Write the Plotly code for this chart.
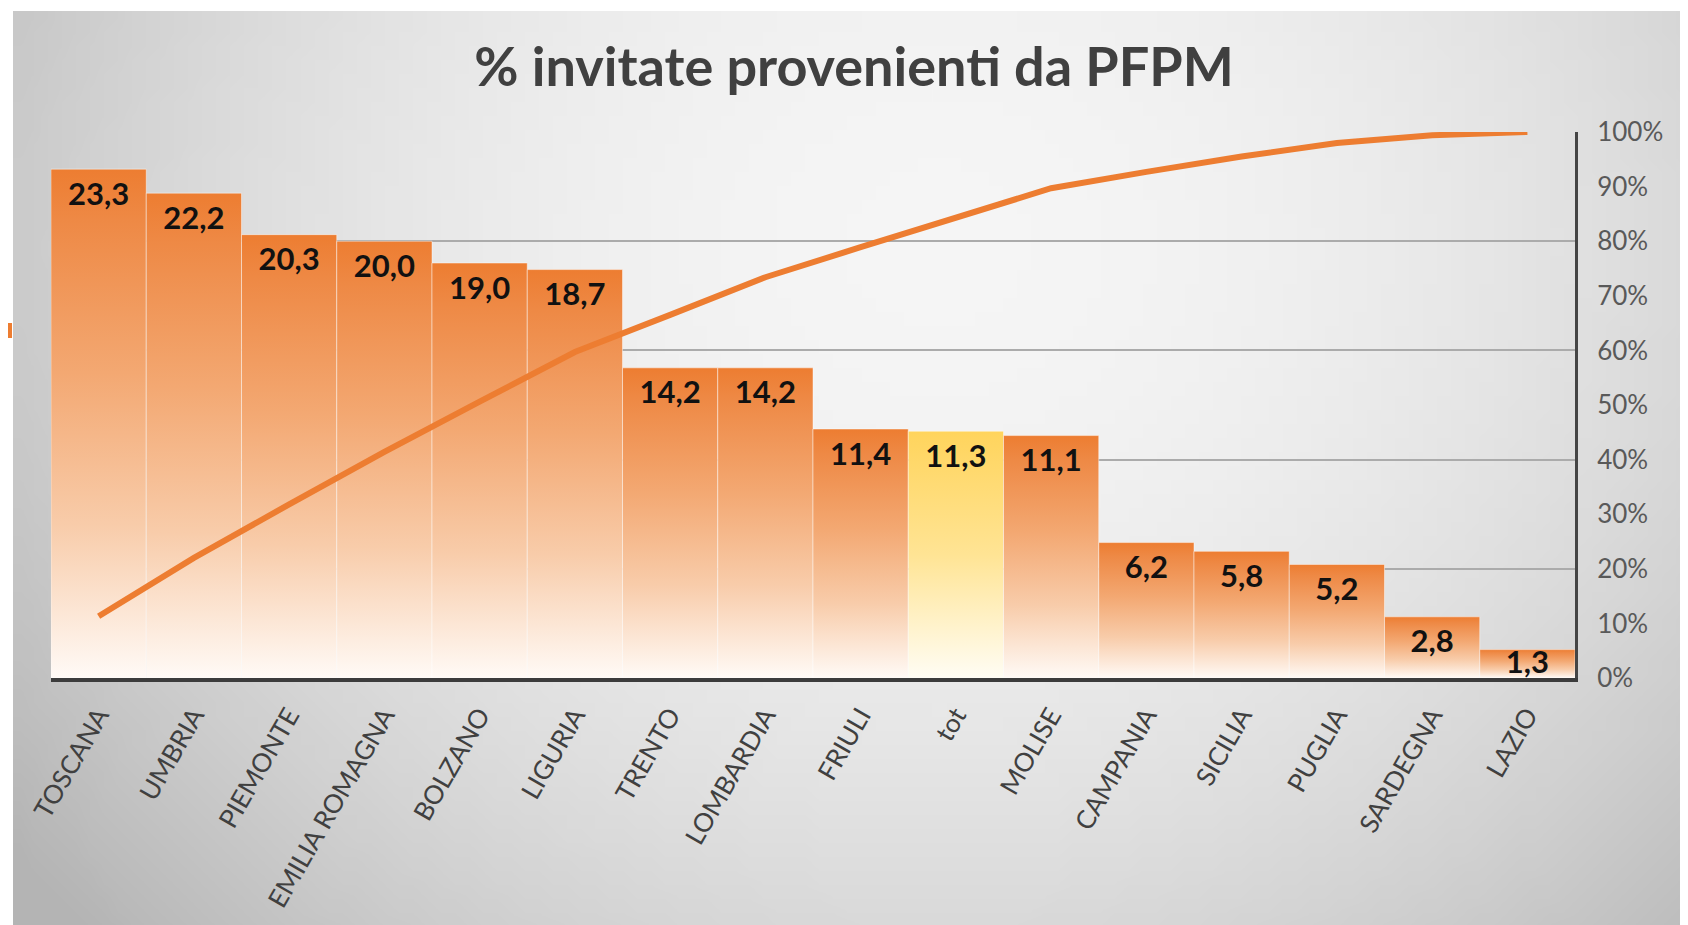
"""Pareto chart: % invitate provenienti da PFPM, per regione."""

import base64
import struct
import zlib

import plotly.graph_objects as go

REGIONS = [
    "TOSCANA", "UMBRIA", "PIEMONTE", "EMILIA ROMAGNA", "BOLZANO", "LIGURIA",
    "TRENTO", "LOMBARDIA", "FRIULI", "tot", "MOLISE", "CAMPANIA", "SICILIA",
    "PUGLIA", "SARDEGNA", "LAZIO",
]
PCT_PFPM = [23.3, 22.2, 20.3, 20.0, 19.0, 18.7, 14.2, 14.2, 11.4, 11.3, 11.1,
            6.2, 5.8, 5.2, 2.8, 1.3]
# cumulative share (right axis)
CUMULATIVE = [0.113, 0.220, 0.318, 0.414, 0.506, 0.597, 0.665, 0.734, 0.789,
              0.843, 0.897, 0.927, 0.955, 0.980, 0.994, 1.0]
HIGHLIGHT = "tot"

W, H = 1688, 925
# the page body adds an 8px offset, so margins are set for that
M_L, M_R, M_T, M_B = 43, 121, 124, 255
PW, PH = W - M_L - M_R, H - M_T - M_B
Y_MAX = 25

FONT = "Lato"
ORANGE = "#ED7D31"
_BAR_SCALE = [[0, "#FFFAF6"], [0.3, "#F8CCAA"], [0.6, "#F3A872"],
              [0.9, "#EE8945"], [1, ORANGE]]
_TOT_SCALE = [[0, "#FFFDF4"], [0.5, "#FFE494"], [1, "#FFD45C"]]


def _png(w, h, pix):
    """Tiny PNG encoder, used for the grey slide background."""
    raw = b"".join(
        b"\x00" + bytes(c for x in range(w) for c in pix(x / (w - 1), y / (h - 1)))
        for y in range(h)
    )

    def chunk(tag, data):
        return (struct.pack(">I", len(data)) + tag + data
                + struct.pack(">I", zlib.crc32(tag + data) & 0xFFFFFFFF))

    return (b"\x89PNG\r\n\x1a\n"
            + chunk(b"IHDR", struct.pack(">IIBBBBB", w, h, 8, 2, 0, 0, 0))
            + chunk(b"IDAT", zlib.compress(raw))
            + chunk(b"IEND", b""))


def _bg(u, v):
    d = ((u - 0.55) / 0.6) ** 2 + ((v - 0.25) / 1.0) ** 2
    g = int(round(245 - 50 * min(d, 1.3)))
    return (g, g, g)


bg_uri = "data:image/png;base64," + base64.b64encode(_png(120, 66, _bg)).decode()

fig = go.Figure()

for i, (name, val) in enumerate(zip(REGIONS, PCT_PFPM)):
    fig.add_trace(go.Scatter(
        x=[i - 0.5, i - 0.5, i + 0.5, i + 0.5, i - 0.5],
        y=[0, val, val, 0, 0],
        mode="lines",
        fill="toself",
        fillgradient=dict(type="vertical",
                          colorscale=_TOT_SCALE if name == HIGHLIGHT else _BAR_SCALE),
        line=dict(color="rgba(255,255,255,0.45)", width=1),
        hoverinfo="skip",
        showlegend=False,
    ))

# invisible markers push the labels down inside the bar; short bars get less push
bar_px = [v / Y_MAX * PH for v in PCT_PFPM]
push = [max(0, min(18, 2 * (h - 32))) for h in bar_px]
fig.add_trace(go.Scatter(
    x=list(range(len(REGIONS))),
    y=PCT_PFPM,
    mode="markers+text",
    marker=dict(size=push, opacity=0),
    text=[f"{v:.1f}".replace(".", ",") for v in PCT_PFPM],
    textposition="bottom center",
    textfont=dict(family=FONT, size=31, color="#111111", weight="bold"),
    hoverinfo="skip",
    showlegend=False,
))

fig.add_trace(go.Scatter(
    x=list(range(len(REGIONS))),
    y=CUMULATIVE,
    yaxis="y2",
    mode="lines",
    line=dict(color=ORANGE, width=6),
    cliponaxis=False,
    showlegend=False,
))

fig.update_layout(
    width=W,
    height=H,
    margin=dict(l=M_L, r=M_R, t=M_T, b=M_B),
    paper_bgcolor="white",
    plot_bgcolor="rgba(0,0,0,0)",
    font=dict(family=FONT, color="#404040"),
    title=dict(
        text="% invitate provenienti da PFPM",
        x=846 / W, y=1 - 59 / H, xanchor="center", yanchor="middle",
        font=dict(family=FONT, size=54, color="#404040", weight="bold"),
    ),
    xaxis=dict(
        range=[-0.5, len(REGIONS) - 0.5],
        tickvals=list(range(len(REGIONS))),
        ticktext=REGIONS,
        tickangle=-60,
        tickfont=dict(size=26, color="#404040"),
        ticks="", ticklabelstandoff=8,
        showgrid=False, zeroline=False,
        showline=True, linecolor="#3c3c3c", linewidth=4,
    ),
    yaxis=dict(
        range=[0, Y_MAX], dtick=5,
        showticklabels=False, ticks="",
        showgrid=True, gridcolor="#ababab", gridwidth=1.5,
        zeroline=False, showline=False,
    ),
    yaxis2=dict(
        overlaying="y", side="right",
        range=[0, 1], dtick=0.1, tickformat=".0%",
        tickfont=dict(size=26, color="#595959"),
        ticks="", ticklabelstandoff=14,
        showgrid=False, zeroline=False,
        showline=True, linecolor="#454545", linewidth=3,
    ),
    images=[dict(
        source=bg_uri, xref="paper", yref="paper",
        x=(5 - M_L) / PW, y=1 + (M_T - 3) / PH,
        sizex=(W - 5) / PW, sizey=(H - 3) / PH,
        xanchor="left", yanchor="top", sizing="stretch", layer="below",
    )],
    shapes=[dict(
        type="rect", xref="paper", yref="paper",
        x0=-M_L / PW, x1=(4 - M_L) / PW,
        y0=(H - M_B - 330) / PH, y1=(H - M_B - 315) / PH,
        fillcolor=ORANGE, line=dict(width=0), layer="above",
    )],
)

fig.write_html("out.html")
